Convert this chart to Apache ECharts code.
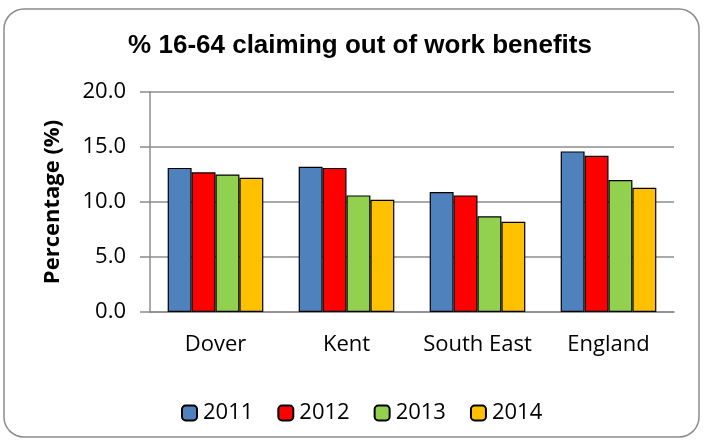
<!DOCTYPE html>
<html>
<head>
<meta charset="utf-8">
<script src="https://cdn.jsdelivr.net/npm/echarts@6/dist/echarts.min.js"></script>
<style>
  html, body { margin: 0; padding: 0; background: #fff; }
  #chart { width: 704px; height: 441px; }
</style>
</head>
<body>
<div id="chart"></div>
<script>
const categories = ["Dover", "Kent", "South East", "England"];
const years = ["2011", "2012", "2013", "2014"];
const values2011 = [13.1, 13.2, 10.9, 14.6];
const values2012 = [12.7, 13.1, 10.6, 14.2];
const values2013 = [12.5, 10.6, 8.7, 12.0];
const values2014 = [12.2, 10.2, 8.2, 11.3];
const colors = ["#4f81bd", "#ff0000", "#92d050", "#ffc000"];

const chart = echarts.init(document.getElementById("chart"));
const allValues = [values2011, values2012, values2013, values2014];
const labelFont = "Open Sans";

chart.setOption({
    animation: false,
    title: {
        text: "% 16-64 claiming out of work benefits",
        left: 355,
        textAlign: "center",
        top: 28,
        textStyle: { fontFamily: "Liberation Sans", fontSize: 26, fontWeight: "bold", color: "#000" }
    },
    graphic: [{
        type: "rect",
        shape: { x: 4, y: 9, width: 695, height: 428, r: 20 },
        style: { fill: "none", stroke: "#8c8c8c", lineWidth: 1.5 },
        silent: true
    }],
    grid: { left: 150, right: 30, top: 92, bottom: 129 },
    legend: {
        top: 397,
        left: 176,
        itemWidth: 15,
        itemHeight: 15,
        itemGap: 24,
        textStyle: { fontFamily: labelFont, fontSize: 22, color: "#000", padding: [0, 0, 0, 1] },
        data: years
    },
    xAxis: {
        type: "category",
        data: categories,
        axisLine: { lineStyle: { color: "#8c8c8c", width: 1.5 } },
        axisTick: { length: 7, lineStyle: { color: "#8c8c8c", width: 1.5 } },
        axisLabel: { interval: 0, fontFamily: labelFont, fontSize: 22, color: "#000", margin: 22 }
    },
    yAxis: {
        type: "value",
        min: 0,
        max: 20,
        interval: 5,
        name: "Percentage (%)",
        nameLocation: "middle",
        nameGap: 86,
        nameTextStyle: { fontFamily: labelFont, fontSize: 22, fontWeight: "bold", color: "#000" },
        axisLine: { show: true, lineStyle: { color: "#8c8c8c", width: 1.5 } },
        axisTick: { show: true, length: 10, lineStyle: { color: "#8c8c8c", width: 1.5 } },
        splitLine: { lineStyle: { color: "#8c8c8c", width: 1.5 } },
        axisLabel: {
            fontFamily: labelFont, fontSize: 22, color: "#000", margin: 24,
            formatter: v => v.toFixed(1)
        }
    },
    series: years.map((y, i) => ({
        name: y,
        type: "bar",
        data: allValues[i],
        barGap: "0%",
        barCategoryGap: "27%",
        itemStyle: { color: colors[i], borderColor: "#000", borderWidth: 1.2 }
    }))
});
</script>
</body>
</html>
